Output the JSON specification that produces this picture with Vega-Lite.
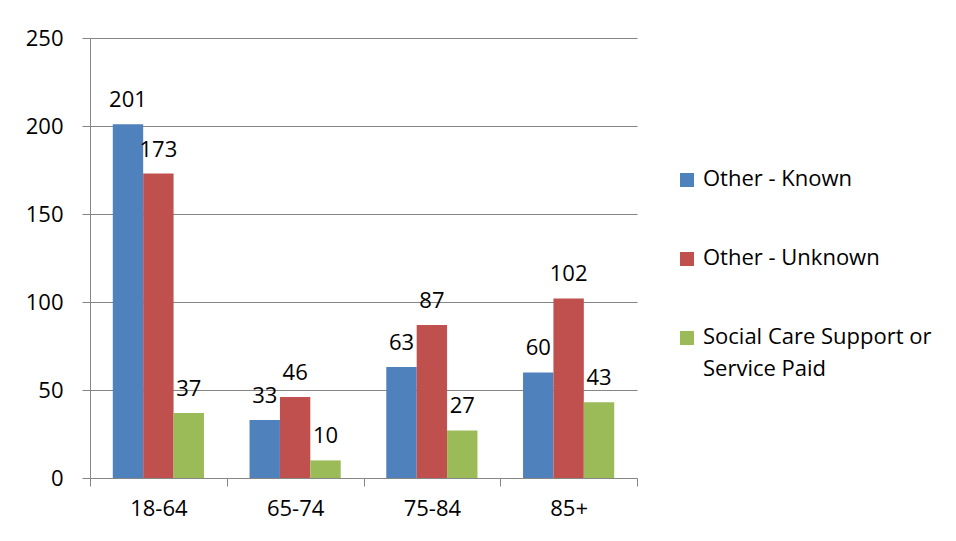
{
  "$schema": "https://vega.github.io/schema/vega-lite/v6.json",
  "width": 547,
  "height": 440,
  "autosize": {"type": "none"},
  "padding": {"left": 90, "top": 38, "right": 319, "bottom": 63},
  "background": "white",
  "config": {
    "font": "Open Sans",
    "view": {"stroke": null},
    "text": {"font": "Open Sans"}
  },
  "data": {
    "values": [
      {"age": "18-64", "series": "Other - Known", "value": 201},
      {"age": "18-64", "series": "Other - Unknown", "value": 173},
      {"age": "18-64", "series": "Social Care Support or Service Paid", "value": 37},
      {"age": "65-74", "series": "Other - Known", "value": 33},
      {"age": "65-74", "series": "Other - Unknown", "value": 46},
      {"age": "65-74", "series": "Social Care Support or Service Paid", "value": 10},
      {"age": "75-84", "series": "Other - Known", "value": 63},
      {"age": "75-84", "series": "Other - Unknown", "value": 87},
      {"age": "75-84", "series": "Social Care Support or Service Paid", "value": 27},
      {"age": "85+", "series": "Other - Known", "value": 60},
      {"age": "85+", "series": "Other - Unknown", "value": 102},
      {"age": "85+", "series": "Social Care Support or Service Paid", "value": 43}
    ]
  },
  "encoding": {
    "x": {
      "field": "age",
      "type": "nominal",
      "sort": ["18-64", "65-74", "75-84", "85+"],
      "scale": {"paddingInner": 0, "paddingOuter": 0},
      "axis": {
        "title": null,
        "labelAngle": 0,
        "labelFontSize": 22,
        "labelColor": "black",
        "labelFont": "Open Sans",
        "domainColor": "#868686",
        "tickColor": "#868686",
        "tickSize": 8,
        "tickBand": "extent",
        "labelPadding": 12,
        "grid": false
      }
    },
    "xOffset": {
      "field": "series",
      "type": "nominal",
      "sort": ["Other - Known", "Other - Unknown", "Social Care Support or Service Paid"],
      "scale": {"paddingInner": 0, "paddingOuter": 0.75}
    },
    "y": {
      "field": "value",
      "type": "quantitative",
      "scale": {"domain": [0, 250], "nice": false},
      "axis": {
        "title": null,
        "values": [0, 50, 100, 150, 200, 250],
        "labelFontSize": 22,
        "labelColor": "black",
        "labelFont": "Open Sans",
        "domainColor": "#868686",
        "tickColor": "#868686",
        "gridColor": "#868686",
        "tickSize": 8,
        "labelPadding": 19,
        "grid": true
      }
    }
  },
  "layer": [
    {
      "mark": {"type": "bar"},
      "encoding": {
        "color": {
          "field": "series",
          "type": "nominal",
          "sort": ["Other - Known", "Other - Unknown", "Social Care Support or Service Paid"],
          "scale": {
            "domain": ["Other - Known", "Other - Unknown", "Social Care Support or Service Paid"],
            "range": ["#4F81BD", "#C0504D", "#9BBB59"]
          },
          "legend": {
            "title": null,
            "orient": "none",
            "legendX": 586,
            "legendY": 131,
            "symbolType": "square",
            "symbolSize": 196,
            "symbolStrokeWidth": 0,
            "labelFontSize": 22,
            "labelFont": "Open Sans",
            "labelColor": "black",
            "labelOffset": 5,
            "labelLimit": 400,
            "rowPadding": 57,
            "labelExpr": "datum.label == 'Social Care Support or Service Paid' ? ['Social Care Support or', 'Service Paid'] : datum.label",
            "encode": {
              "labels": {
                "update": {
                  "lineHeight": {"value": 32},
                  "baseline": {"value": "top"},
                  "dy": {"value": -11}
                }
              }
            }
          }
        }
      }
    },
    {
      "mark": {"type": "text", "baseline": "alphabetic", "dy": -17, "fontSize": 22, "color": "black", "font": "Open Sans"},
      "encoding": {"text": {"field": "value", "type": "quantitative"}}
    }
  ]
}
